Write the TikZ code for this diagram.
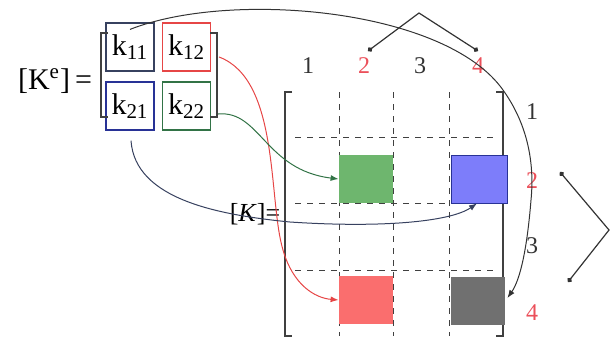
\documentclass[tikz,border=0pt]{standalone}
\usepackage{fontspec}
\setmainfont{Liberation Serif}
\usetikzlibrary{positioning,arrows.meta,calc}
\definecolor{elemred}{RGB}{230,70,70}
\definecolor{elemgrn}{RGB}{50,115,70}
\definecolor{elemblu}{RGB}{40,50,150}
\definecolor{elemdrk}{RGB}{55,65,95}
\definecolor{sqgrn}{RGB}{110,182,110}
\definecolor{sqblu}{RGB}{125,125,250}
\definecolor{sqred}{RGB}{250,110,110}
\definecolor{sqgry}{RGB}{112,112,112}
\definecolor{numred}{RGB}{235,80,90}

\begin{document}
\begin{tikzpicture}[x=0.5pt, y=-0.5pt,
  elem/.style={rectangle, draw=#1, line width=0.6pt, minimum size=24pt,
               inner sep=0pt, font=\fontsize{15}{18}\selectfont},
  blk/.style={rectangle, fill=#1, minimum width=27pt, minimum height=24pt, inner sep=0pt},
  num/.style={font=\fontsize{12}{14}\selectfont, text=#1, inner sep=1pt},
  ea/.style={-{Latex[length=4pt,width=3pt]}, line width=0.5pt, #1},
  dotln/.style={{Circle[length=2.5pt]}-{Circle[length=2.5pt]}, line width=0.6pt, black!80},
  brk/.style={line width=0.6pt, black!75},
  grid/.style={dashed, line width=0.5pt, black!75},
]
\useasboundingbox (0,0) rectangle (611,339);

% element matrix
\node[font=\fontsize{15}{18}\selectfont] (Ke) at (55,81) {[K\textsuperscript{e}]\,=};
\node[elem=elemdrk] (k11) at (130,47)   {k\textsubscript{11}};
\node[elem=elemred] (k12) at (186.5,47) {k\textsubscript{12}};
\node[elem=elemblu] (k21) at (130,106)  {k\textsubscript{21}};
\node[elem=elemgrn] (k22) at (186.5,106) {k\textsubscript{22}};
\draw[brk] (108,33) -- (101,33) -- (101,117) -- (108,117);
\draw[brk] (210,33) -- (217,33) -- (217,117) -- (210,117);

% global matrix
\foreach \x in {339,393,449} \draw[grid] (\x,92) -- (\x,336);
\foreach \y in {137,203,270} \draw[grid] (295,\y) -- (495,\y);
\draw[brk] (292,92) -- (285,92) -- (285,336) -- (292,336);
\draw[brk] (496,92) -- (503,92) -- (503,336) -- (496,336);

\node[blk=sqgrn] (b22) at (366,179) {};
\node[blk=sqblu, draw=elemblu, minimum width=28pt] (b24) at (479,179) {};
\node[blk=sqred] (b42) at (366,300) {};
\node[blk=sqgry, minimum width=27pt] (b44) at (478,301) {};

\node[font=\fontsize{13}{15}\selectfont, inner sep=0pt] (K) at (255,214) {[\textit{K}]=};

\foreach \x/\t/\c in {308/1/black!80, 364/2/numred, 420/3/black!80, 478/4/numred}
  \node[num=\c] (c\t) at (\x,66) {\t};
\foreach \y/\t/\c in {112/1/black!80, 181/2/numred, 246/3/black!80, 313/4/numred}
  \node[num=\c] (r\t) at (532,\y) {\t};

% pointers
\coordinate (tapex) at (419,13);
\coordinate (t2) at (368,51);
\coordinate (t4) at (478,51);
\draw[dotln] (t2) -- (tapex) -- (t4);
\coordinate (rapex) at (609,230);
\coordinate (ru) at (560,172);
\coordinate (rd) at (568,282);
\draw[dotln] (ru) -- (rapex) -- (rd);

% assembly arrows
\draw[ea=black!80] ($(k11.north)+(0,7)$) .. controls (230,-10) and (445,8) .. (503,90)
  .. controls (526,122) and (535,160) .. (531,200)
  .. controls (527,250) and (520,280) .. ($(b44.east)+(2,-3)$);
\draw[ea=elemred] ($(k12.east)+(8,10)$) .. controls (280,80) and (268,200) .. (283,250)
  .. controls (293,285) and (315,298) .. (b42.west);
\draw[ea=elemgrn] ($(k22.east)+(7,8)$) .. controls (260,110) and (265,170) .. (b22.west);
\draw[ea=elemdrk] ($(k21.south)+(1,10)$) .. controls (135,200) and (220,215) .. (290,222)
  .. controls (380,228) and (450,222) .. ($(b24.south)+(-2,0)$);

\end{tikzpicture}
\end{document}
